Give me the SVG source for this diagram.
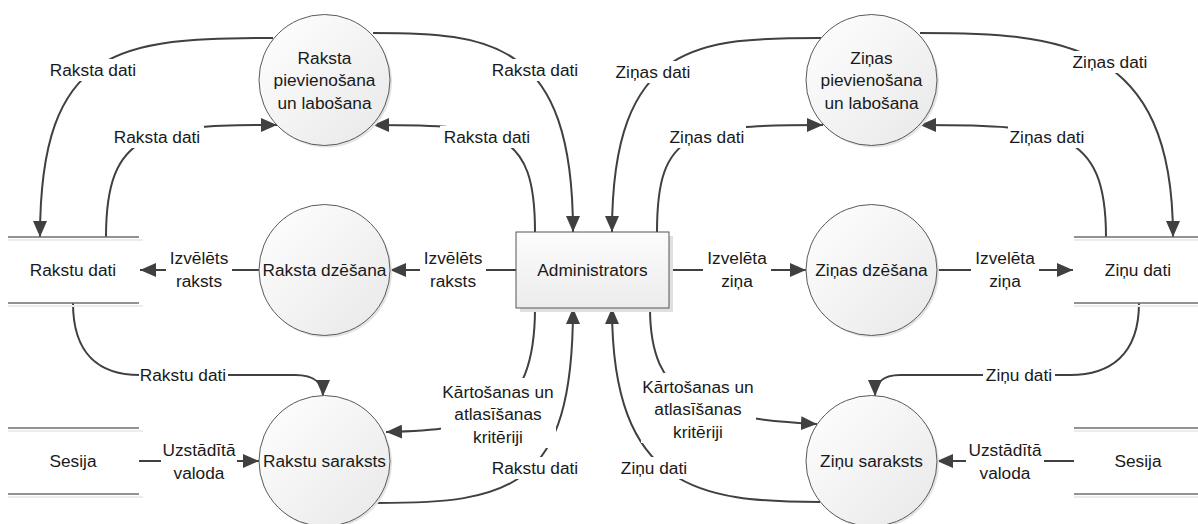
<svg xmlns="http://www.w3.org/2000/svg" width="1198" height="524" viewBox="0 0 1198 524">
<style>
text{font-family:"Liberation Sans",Arial,sans-serif;font-size:17.3px;fill:#1a1a1a;text-anchor:middle;dominant-baseline:central}
.c{fill:url(#cg);stroke:#5a5a5a;stroke-width:1}
.sh{fill:#e4e4e4;stroke:none}
.e{fill:none;stroke:#404040;stroke-width:2;marker-end:url(#ah)}
.ds{stroke:#6e6e6e;stroke-width:1.5}
.dss{stroke:#ececec;stroke-width:2}
.bg{fill:#fff}
</style>
<defs>
<linearGradient id="cg" x1="0" y1="0" x2="1" y2="1">
<stop offset="0" stop-color="#ffffff"/>
<stop offset="1" stop-color="#e8e8e8"/>
</linearGradient>
<linearGradient id="bg2" x1="0" y1="0" x2="0" y2="1">
<stop offset="0" stop-color="#fcfcfc"/>
<stop offset="1" stop-color="#ececec"/>
</linearGradient>
<marker id="ah" markerUnits="userSpaceOnUse" markerWidth="16" markerHeight="14" viewBox="0 0 16 14" refX="16" refY="7" orient="auto">
<path d="M0,0 L16,7 L0,14 z" fill="#404040"/>
</marker>
</defs>
<rect width="1198" height="524" fill="#fff"/>

<g id="connectors">
<path class="e" d="M273,38 C120,38 40,45 40,237"/>
<path class="e" d="M106,237 C106,130 150,125 277,125"/>
<path class="e" d="M535,232 C535,130 500,125 373,125"/>
<path class="e" d="M373,33 C490,33 573,40 573,232"/>
<path class="e" d="M821,38 C700,38 612,40 612,232"/>
<path class="e" d="M657,232 C657,130 690,125 823,125"/>
<path class="e" d="M920,33 C1060,33 1173,40 1173,237"/>
<path class="e" d="M1106,237 C1106,130 1060,125 920,125"/>
<path class="e" d="M516,270 L390,270"/>
<path class="e" d="M259,270 L140,270"/>
<path class="e" d="M669,270 L806,270"/>
<path class="e" d="M937,270 L1073,270"/>
<path class="e" d="M73,303 C73,355 100,375 140,375 L295,375 C315,375 323,384 323,396"/>
<path class="e" d="M1139,303 C1139,355 1110,375 1070,375 L900,375 C882,375 875,384 875,396"/>
<path class="e" d="M139,461 L259,461"/>
<path class="e" d="M1074,461 L937,461"/>
<path class="e" d="M535,308 C535,420 480,430 386,432"/>
<path class="e" d="M650,308 C650,400 700,418 817,424"/>
<path class="e" d="M377,503 C510,503 573,490 573,308"/>
<path class="e" d="M820,502 C700,502 612,490 612,308"/>
</g>

<g id="labels">
<rect class="bg" x="46" y="59" width="94" height="22"/><text x="93" y="70">Raksta dati</text>
<rect class="bg" x="110" y="126" width="94" height="22"/><text x="157" y="137">Raksta dati</text>
<rect class="bg" x="440" y="126" width="94" height="22"/><text x="487" y="137">Raksta dati</text>
<rect class="bg" x="488" y="59" width="94" height="22"/><text x="535" y="70">Raksta dati</text>
<rect class="bg" x="614" y="61" width="78" height="22"/><text x="653" y="72">Ziņas dati</text>
<rect class="bg" x="668" y="126" width="78" height="22"/><text x="707" y="137">Ziņas dati</text>
<rect class="bg" x="1071" y="51" width="78" height="22"/><text x="1110" y="62">Ziņas dati</text>
<rect class="bg" x="1008" y="126" width="78" height="22"/><text x="1047" y="137">Ziņas dati</text>
<rect class="bg" x="166" y="247" width="66" height="46"/><text x="199" y="258">Izvēlēts</text><text x="199" y="281">raksts</text>
<rect class="bg" x="420" y="247" width="66" height="46"/><text x="453" y="258">Izvēlēts</text><text x="453" y="281">raksts</text>
<rect class="bg" x="703" y="247" width="68" height="46"/><text x="737" y="258">Izvelēta</text><text x="737" y="281">ziņa</text>
<rect class="bg" x="971" y="247" width="68" height="46"/><text x="1005" y="258">Izvelēta</text><text x="1005" y="281">ziņa</text>
<rect class="bg" x="139" y="364" width="89" height="22"/><text x="183" y="375">Rakstu dati</text>
<rect class="bg" x="983" y="364" width="72" height="22"/><text x="1019" y="375">Ziņu dati</text>
<rect class="bg" x="161" y="439" width="76" height="46"/><text x="199" y="450">Uzstādītā</text><text x="199" y="473">valoda</text>
<rect class="bg" x="966" y="439" width="78" height="46"/><text x="1005" y="450">Uzstādītā</text><text x="1005" y="473">valoda</text>
<rect class="bg" x="441" y="378" width="115" height="70"/><text x="498" y="392">Kārtošanas un</text><text x="498" y="414">atlasīšanas</text><text x="498" y="437">kritēriji</text>
<rect class="bg" x="641" y="373" width="115" height="70"/><text x="698" y="387">Kārtošanas un</text><text x="698" y="409">atlasīšanas</text><text x="698" y="432">kritēriji</text>
<rect class="bg" x="490" y="457" width="90" height="22"/><text x="535" y="468">Rakstu dati</text>
<rect class="bg" x="618" y="457" width="72" height="22"/><text x="654" y="468">Ziņu dati</text>
</g>

<g id="raksta-pievienosana">
<circle class="sh" cx="326.5" cy="82" r="65.5"/>
<circle class="c" cx="324.5" cy="80" r="65.5"/>
<text x="324.5" y="57.5">Raksta</text><text x="324.5" y="80">pievienošana</text><text x="324.5" y="102.5">un labošana</text>
</g>
<g id="raksta-dzesana">
<circle class="sh" cx="326.5" cy="272" r="65.5"/>
<circle class="c" cx="324.5" cy="270" r="65.5"/>
<text x="324.5" y="270">Raksta dzēšana</text>
</g>
<g id="rakstu-saraksts">
<circle class="sh" cx="326.5" cy="463" r="65.5"/>
<circle class="c" cx="324.5" cy="461" r="65.5"/>
<text x="324.5" y="461">Rakstu saraksts</text>
</g>
<g id="zinas-pievienosana">
<circle class="sh" cx="873.5" cy="82" r="65.5"/>
<circle class="c" cx="871.5" cy="80" r="65.5"/>
<text x="871.5" y="57.5">Ziņas</text><text x="871.5" y="80">pievienošana</text><text x="871.5" y="102.5">un labošana</text>
</g>
<g id="zinas-dzesana">
<circle class="sh" cx="873.5" cy="272" r="65.5"/>
<circle class="c" cx="871.5" cy="270" r="65.5"/>
<text x="871.5" y="270">Ziņas dzēšana</text>
</g>
<g id="zinu-saraksts">
<circle class="sh" cx="873.5" cy="463" r="65.5"/>
<circle class="c" cx="871.5" cy="461" r="65.5"/>
<text x="871.5" y="461">Ziņu saraksts</text>
</g>
<g id="administrators">
<rect x="520" y="236" width="153" height="76" fill="#e0e0e0"/>
<rect x="516" y="232" width="153" height="76" fill="url(#bg2)" stroke="#555" stroke-width="1"/>
<text x="592.5" y="270">Administrators</text>
</g>
<g id="rakstu-dati">
<line class="dss" x1="8" y1="240" x2="143" y2="240"/>
<line class="dss" x1="8" y1="306" x2="143" y2="306"/>
<line class="ds" x1="8" y1="237" x2="139" y2="237"/>
<line class="ds" x1="8" y1="303" x2="139" y2="303"/>
<text x="73" y="270">Rakstu dati</text>
</g>
<g id="sesija-left">
<line class="dss" x1="8" y1="431" x2="143" y2="431"/>
<line class="dss" x1="8" y1="497" x2="143" y2="497"/>
<line class="ds" x1="8" y1="428" x2="139" y2="428"/>
<line class="ds" x1="8" y1="494" x2="139" y2="494"/>
<text x="73" y="461">Sesija</text>
</g>
<g id="zinu-dati">
<line class="dss" x1="1074" y1="240" x2="1198" y2="240"/>
<line class="dss" x1="1074" y1="306" x2="1198" y2="306"/>
<line class="ds" x1="1074" y1="237" x2="1198" y2="237"/>
<line class="ds" x1="1074" y1="303" x2="1198" y2="303"/>
<text x="1138" y="270">Ziņu dati</text>
</g>
<g id="sesija-right">
<line class="dss" x1="1074" y1="431" x2="1198" y2="431"/>
<line class="dss" x1="1074" y1="497" x2="1198" y2="497"/>
<line class="ds" x1="1074" y1="428" x2="1198" y2="428"/>
<line class="ds" x1="1074" y1="494" x2="1198" y2="494"/>
<text x="1138" y="461">Sesija</text>
</g>
</svg>
